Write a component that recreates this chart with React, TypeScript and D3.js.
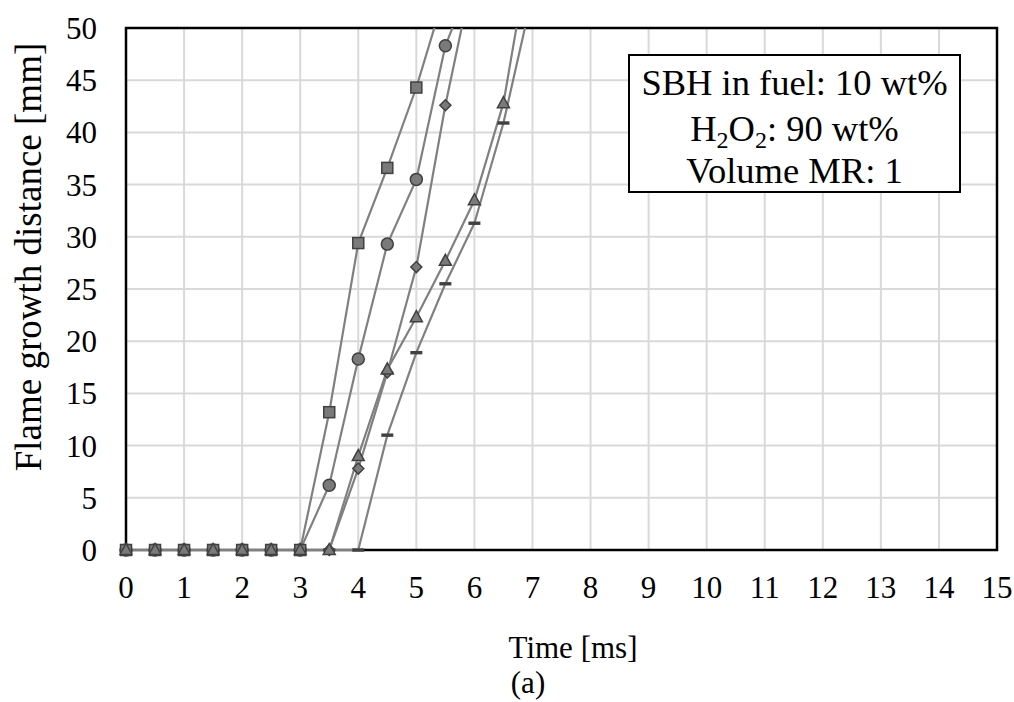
import React from "react";
import * as d3 from "d3";

const time = [0, 0.5, 1, 1.5, 2, 2.5, 3, 3.5, 4, 4.5, 5, 5.5, 6, 6.5, 7];
const squareSeries = [0, 0, 0, 0, 0, 0, 0, 13.2, 29.4, 36.6, 44.3, 53.5];
const circleSeries = [0, 0, 0, 0, 0, 0, 0, 6.2, 18.3, 29.3, 35.5, 48.3, 55.3];
const diamondSeries = [0, 0, 0, 0, 0, 0, 0, 0, 7.8, 17.0, 27.1, 42.6, 55.8];
const triangleSeries = [0, 0, 0, 0, 0, 0, 0, 0, 9.0, 17.3, 22.3, 27.7, 33.5, 42.8, 59.0];
const dashSeries = [0, 0, 0, 0, 0, 0, 0, 0, 0, 11.0, 18.9, 25.5, 31.3, 40.9, 53.2];
const xTicks = d3.range(0, 16, 1);
const yTicks = d3.range(0, 55, 5);
const legendLines = ["SBH in fuel: 10 wt%", "H2O2: 90 wt%", "Volume MR: 1"];

const W = 1014;
const H = 702;
const L = 126, R = 997, T = 28, B = 550;
const FONT = "'Liberation Serif', 'Times New Roman', serif";
const LINE = "#808080";
const FILL = "#7a7a7a";
const EDGE = "#404040";

type Shape = "square" | "circle" | "diamond" | "triangle" | "dash";

export default function App() {
  const x = d3.scaleLinear().domain([0, 15]).range([L, R]);
  const y = d3.scaleLinear().domain([0, 50]).range([B, T]);

  const series: { name: string; values: number[]; shape: Shape }[] = [
    { name: "dash", values: dashSeries, shape: "dash" },
    { name: "circle", values: circleSeries, shape: "circle" },
    { name: "diamond", values: diamondSeries, shape: "diamond" },
    { name: "square", values: squareSeries, shape: "square" },
    { name: "triangle", values: triangleSeries, shape: "triangle" },
  ];

  const line = d3
    .line<number>()
    .x((_, i) => x(time[i]))
    .y((v) => y(v));

  const marker = (shape: Shape, cx: number, cy: number, key: string) => {
    switch (shape) {
      case "square":
        return <rect key={key} x={cx - 5.5} y={cy - 5.5} width={11} height={11} fill={FILL} stroke={EDGE} strokeWidth={1.5} />;
      case "circle":
        return <circle key={key} cx={cx} cy={cy} r={6} fill={FILL} stroke={EDGE} strokeWidth={1.5} />;
      case "diamond":
        return <path key={key} d={`M${cx},${cy - 5.5}L${cx + 5.5},${cy}L${cx},${cy + 5.5}L${cx - 5.5},${cy}Z`} fill={FILL} stroke={EDGE} strokeWidth={1.5} />;
      case "triangle":
        return <path key={key} d={`M${cx},${cy - 6.5}L${cx + 6},${cy + 4.5}L${cx - 6},${cy + 4.5}Z`} fill={FILL} stroke={EDGE} strokeWidth={1.5} />;
      case "dash":
        return <rect key={key} x={cx - 6} y={cy - 1.7} width={12} height={3.4} fill={EDGE} />;
    }
  };

  const boxL = 629, boxR = 960, boxT = 55, boxB = 192;
  const cxLegend = (boxL + boxR) / 2;

  return (
    <div style={{ position: "absolute", left: 0, top: 0 }}>
      <svg width={W} height={H} style={{ display: "block", background: "#fff" }}>
        <defs>
          <clipPath id="plotClip">
            <rect x={0} y={T} width={W} height={H - T} />
          </clipPath>
        </defs>
        <rect x={0} y={0} width={W} height={H} fill="#fff" />
        {xTicks.map((t) => (
          <line key={"gx" + t} x1={x(t)} x2={x(t)} y1={T} y2={B} stroke="#d9d9d9" strokeWidth={2} />
        ))}
        {yTicks.map((t) => (
          <line key={"gy" + t} x1={L} x2={R} y1={y(t)} y2={y(t)} stroke="#d9d9d9" strokeWidth={2} />
        ))}
        <rect x={L} y={T} width={R - L} height={B - T} fill="none" stroke="#000" strokeWidth={2.5} />
        <g clipPath="url(#plotClip)">
          {series.map((s) => (
            <path key={"l" + s.name} d={line(s.values) || ""} fill="none" stroke={LINE} strokeWidth={2.2} />
          ))}
          {series.map((s) =>
            s.values.map((v, i) => (v <= 50 ? marker(s.shape, x(time[i]), y(v), s.name + i) : null))
          )}
        </g>
        {yTicks.map((t) => (
          <text key={"ty" + t} x={97} y={y(t) + 11} textAnchor="end" fontFamily={FONT} fontSize={31} fill="#000">
            {t}
          </text>
        ))}
        {xTicks.map((t) => (
          <text key={"tx" + t} x={x(t)} y={598} textAnchor="middle" fontFamily={FONT} fontSize={31} fill="#000">
            {t}
          </text>
        ))}
        <text transform={`translate(41,${257}) rotate(-90)`} textAnchor="middle" fontFamily={FONT} fontSize={37} fill="#000">
          Flame growth distance [mm]
        </text>
        <text x={573} y={658} textAnchor="middle" fontFamily={FONT} fontSize={31} fill="#000">
          Time [ms]
        </text>
        <text x={528} y={693} textAnchor="middle" fontFamily={FONT} fontSize={31} fill="#000">
          (a)
        </text>
        <rect x={boxL} y={boxT} width={boxR - boxL} height={boxB - boxT} fill="#fff" stroke="#000" strokeWidth={2} />
        <text x={cxLegend} y={95} textAnchor="middle" fontFamily={FONT} fontSize={36.5} fill="#000">
          {legendLines[0]}
        </text>
        <text x={cxLegend} y={141} textAnchor="middle" fontFamily={FONT} fontSize={36.5} fill="#000">
          <tspan>H</tspan>
          <tspan fontSize={24} dy={7}>2</tspan>
          <tspan dy={-7}>O</tspan>
          <tspan fontSize={24} dy={7}>2</tspan>
          <tspan dy={-7}>: 90 wt%</tspan>
        </text>
        <text x={cxLegend} y={183} textAnchor="middle" fontFamily={FONT} fontSize={36.5} fill="#000">
          {legendLines[2]}
        </text>
      </svg>
    </div>
  );
}
